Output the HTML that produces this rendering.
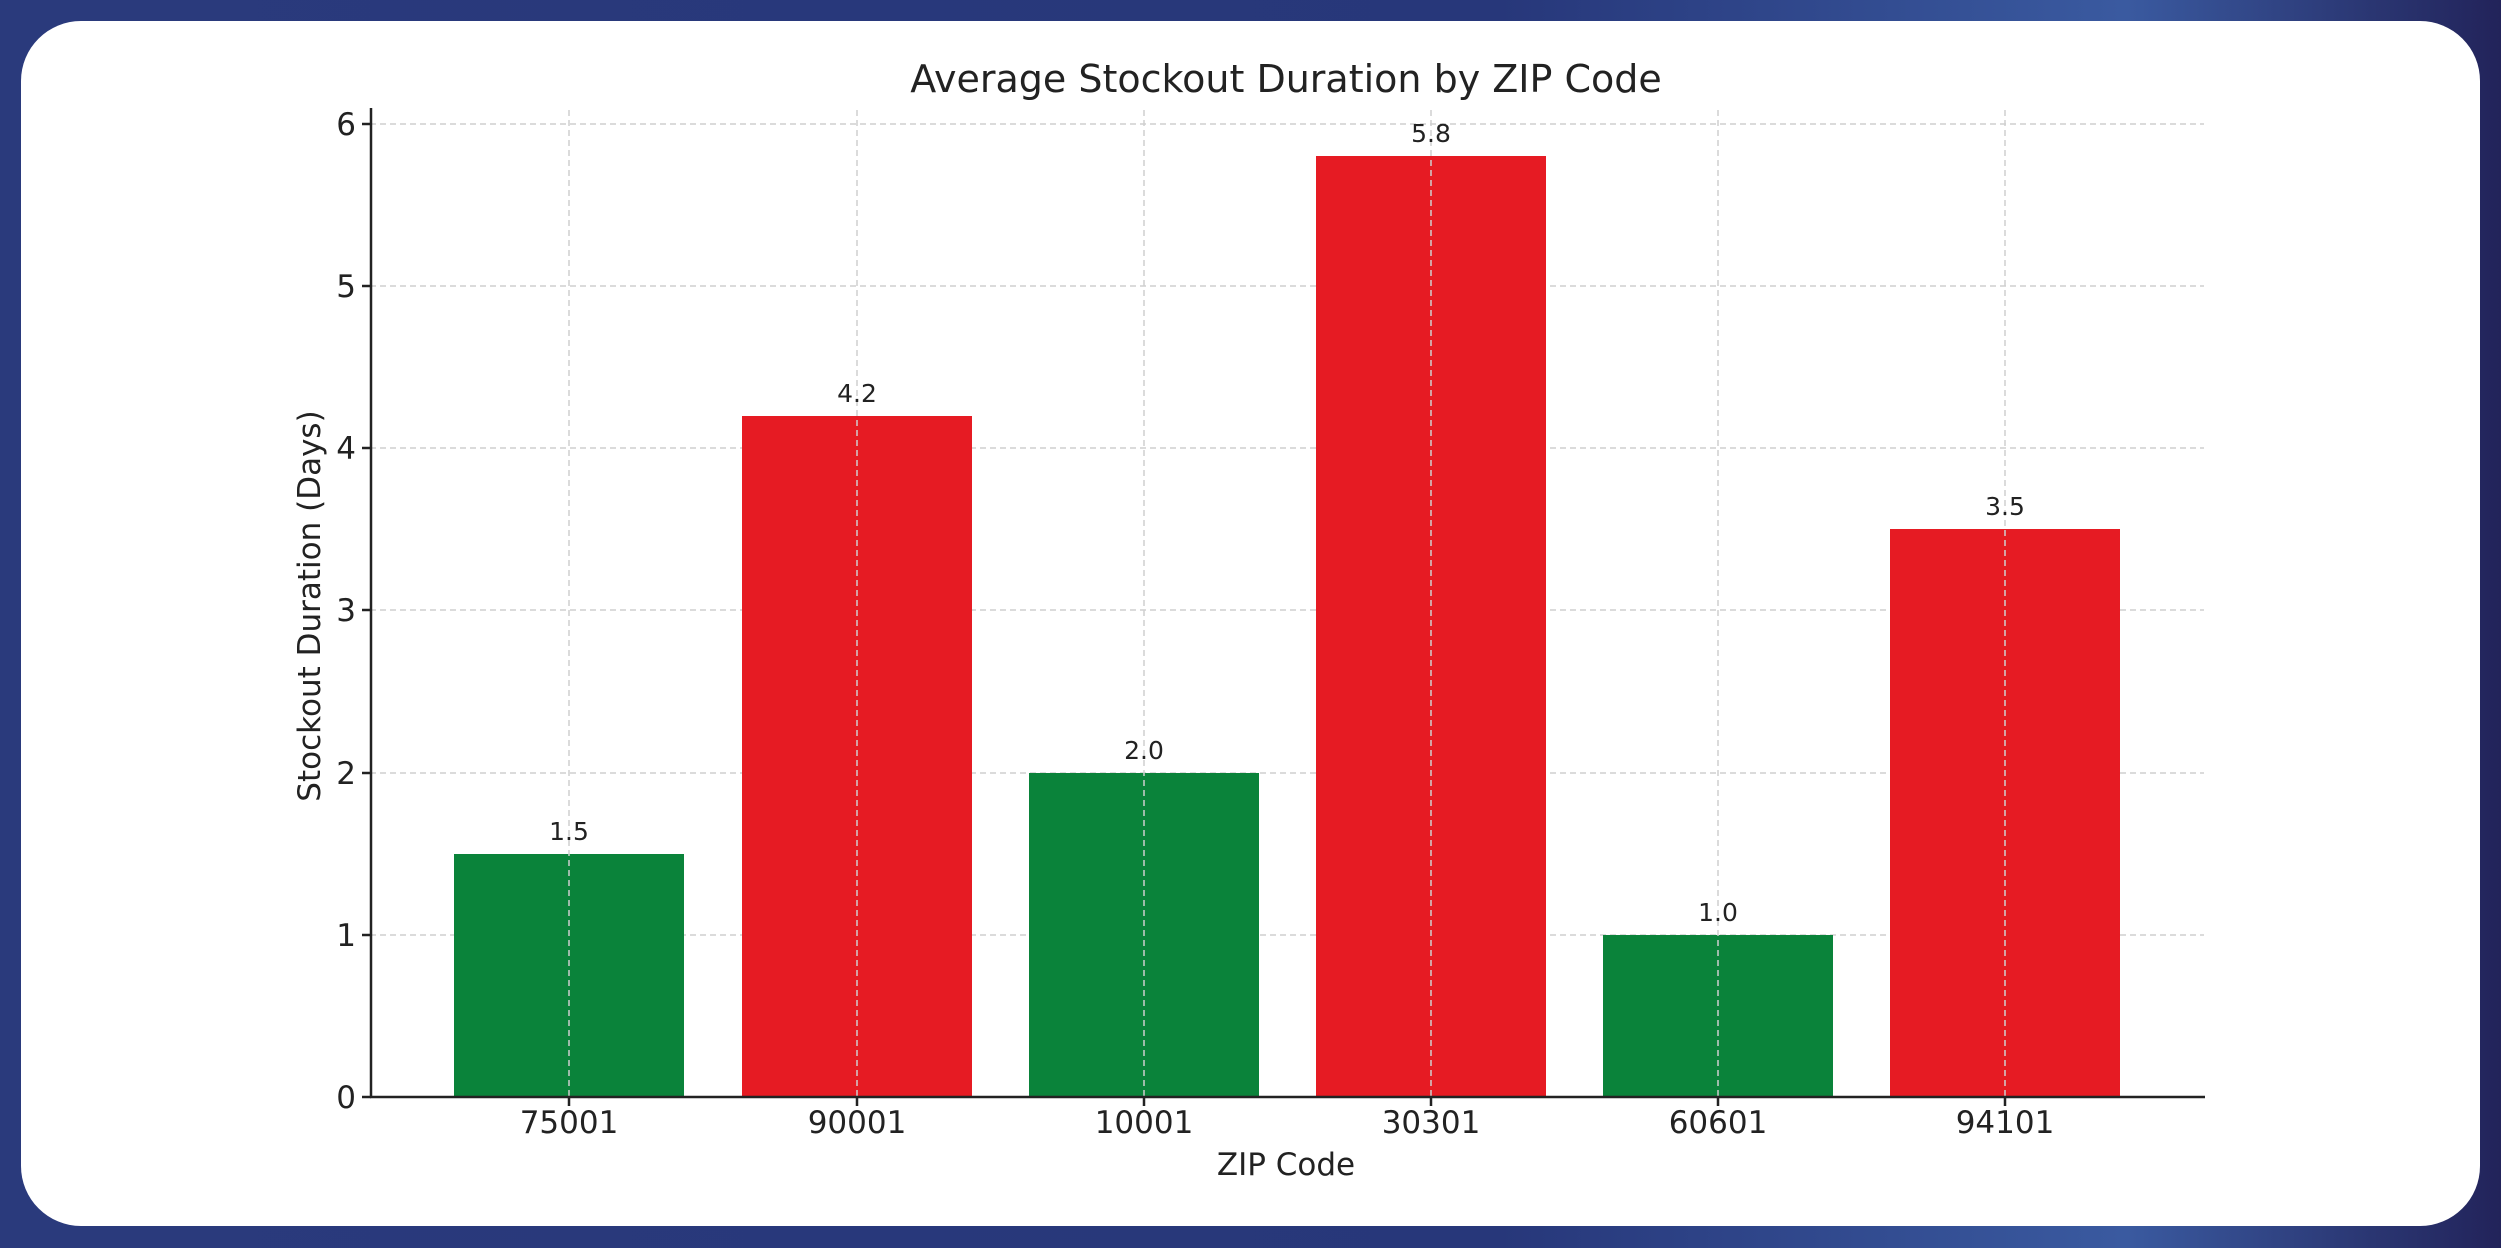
<!DOCTYPE html>
<html><head><meta charset="utf-8"><style>
html,body{margin:0;padding:0;width:2501px;height:1248px;overflow:hidden;background:linear-gradient(90deg,#2a3a7c 0%,#27377a 60%,#3a5aa0 85%,#22235a 100%);}
svg{position:absolute;left:0;top:0}
text{font-family:"DejaVu Sans","Liberation Sans",sans-serif;fill:#222}
</style></head><body>
<svg width="2501" height="1248" viewBox="0 0 2501 1248">
<rect x="21" y="21" width="2459" height="1205" rx="60" ry="60" fill="#fff"/>
<text x="1286" y="92" font-size="38" text-anchor="middle" fill="#333">Average Stockout Duration by ZIP Code</text>
<g stroke="#cfcfcf" stroke-width="1.5" stroke-dasharray="6,4">
<line x1="370" x2="2204" y1="124" y2="124"/>
<line x1="370" x2="2204" y1="286" y2="286"/>
<line x1="370" x2="2204" y1="448" y2="448"/>
<line x1="370" x2="2204" y1="610" y2="610"/>
<line x1="370" x2="2204" y1="773" y2="773"/>
<line x1="370" x2="2204" y1="935" y2="935"/>
</g>
<g>
<rect x="454" y="854" width="230" height="243" fill="#0a833a"/>
<rect x="742" y="416" width="230" height="681" fill="#e61b23"/>
<rect x="1029" y="773" width="230" height="324" fill="#0a833a"/>
<rect x="1316" y="156" width="230" height="941" fill="#e61b23"/>
<rect x="1603" y="935" width="230" height="162" fill="#0a833a"/>
<rect x="1890" y="529" width="230" height="568" fill="#e61b23"/>
</g>
<g stroke="#cfcfcf" stroke-width="1.5" stroke-dasharray="6,4">
<line x1="569" x2="569" y1="110" y2="1097"/>
<line x1="857" x2="857" y1="110" y2="1097"/>
<line x1="1144" x2="1144" y1="110" y2="1097"/>
<line x1="1431" x2="1431" y1="110" y2="1097"/>
<line x1="1718" x2="1718" y1="110" y2="1097"/>
<line x1="2005" x2="2005" y1="110" y2="1097"/>
</g>
<g stroke="#222" stroke-width="2.5">
<line x1="371" x2="371" y1="108" y2="1098"/>
<line x1="370" x2="2205" y1="1097" y2="1097"/>
<line x1="362" x2="371" y1="124" y2="124"/><line x1="362" x2="371" y1="286" y2="286"/>
<line x1="362" x2="371" y1="448" y2="448"/><line x1="362" x2="371" y1="610" y2="610"/>
<line x1="362" x2="371" y1="773" y2="773"/><line x1="362" x2="371" y1="935" y2="935"/>
<line x1="362" x2="371" y1="1097" y2="1097"/>
<line x1="569" x2="569" y1="1097" y2="1106"/><line x1="857" x2="857" y1="1097" y2="1106"/>
<line x1="1144" x2="1144" y1="1097" y2="1106"/><line x1="1431" x2="1431" y1="1097" y2="1106"/>
<line x1="1718" x2="1718" y1="1097" y2="1106"/><line x1="2005" x2="2005" y1="1097" y2="1106"/>
</g>
<g font-size="31" text-anchor="end">
<text x="356" y="135">6</text><text x="356" y="297">5</text><text x="356" y="459">4</text>
<text x="356" y="621">3</text><text x="356" y="784">2</text><text x="356" y="946">1</text>
<text x="356" y="1108">0</text>
</g>
<g font-size="31" text-anchor="middle">
<text x="569" y="1133">75001</text><text x="857" y="1133">90001</text><text x="1144" y="1133">10001</text>
<text x="1431" y="1133">30301</text><text x="1718" y="1133">60601</text><text x="2005" y="1133">94101</text>
<text x="1286" y="1175">ZIP Code</text>
<text transform="translate(320,606) rotate(-90)">Stockout Duration (Days)</text>
</g>
<g font-size="25" text-anchor="middle" fill="#333">
<text x="569" y="840">1.5</text><text x="857" y="402">4.2</text><text x="1144" y="759">2.0</text>
<text x="1431" y="142">5.8</text><text x="1718" y="921">1.0</text><text x="2005" y="515">3.5</text>
</g>
</svg>
</body></html>
